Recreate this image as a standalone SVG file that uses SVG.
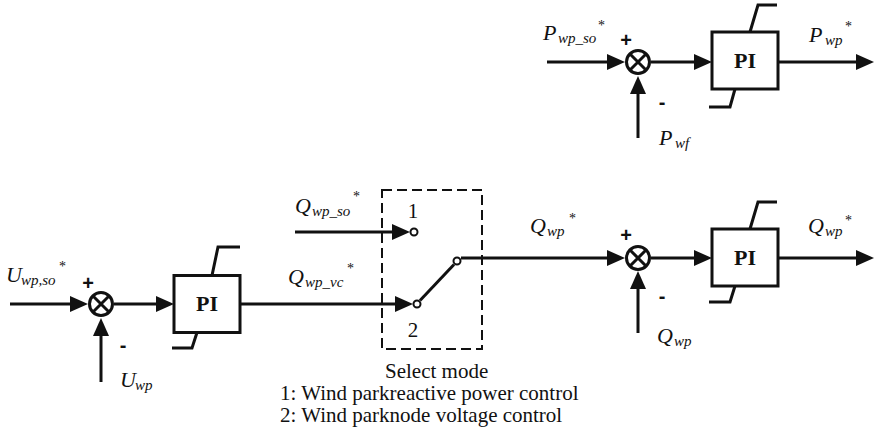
<svg xmlns="http://www.w3.org/2000/svg" width="875" height="434" viewBox="0 0 875 434">
<style>
.ln{fill:none;stroke:#111;stroke-width:3}
.box{fill:#fff;stroke:#111;stroke-width:3}
.sum{fill:#fff;stroke:#111;stroke-width:3}
.sw{fill:#fff;stroke:#111;stroke-width:2}
.dash{fill:none;stroke:#111;stroke-width:2;stroke-dasharray:10 5}
.lab{font-family:"Liberation Serif","Times New Roman",Times,serif;font-style:italic;font-size:22px;fill:#111}
.sub{font-size:15px}
.star{font-style:normal;font-size:14px}
.pi{font-family:"Liberation Serif","Times New Roman",Times,serif;font-weight:bold;font-size:22px;fill:#111;text-anchor:middle}
.sign{font-family:"Liberation Sans",Arial,sans-serif;font-weight:bold;font-size:20px;fill:#111;text-anchor:middle}
.txt{font-family:"Liberation Serif","Times New Roman",Times,serif;font-size:21px;fill:#111}
</style>
<defs>
<marker id="ah" viewBox="0 0 18 16" refX="9" refY="8" markerWidth="18" markerHeight="16" markerUnits="userSpaceOnUse" orient="auto">
<path d="M0,0 L18,8 L0,16 z" fill="#111"/>
</marker>
</defs>

<g id="connectors">
<path class="ln" d="M547,62 H616" marker-end="url(#ah)"/>
<path class="ln" d="M651,62 H703" marker-end="url(#ah)"/>
<path class="ln" d="M778,62 H865" marker-end="url(#ah)"/>
<path class="ln" d="M638,138 V85" marker-end="url(#ah)"/>
<path class="ln" d="M10,304 H79" marker-end="url(#ah)"/>
<path class="ln" d="M114,304 H165" marker-end="url(#ah)"/>
<path class="ln" d="M240,304 H404" marker-end="url(#ah)"/>
<path class="ln" d="M101,382 V327" marker-end="url(#ah)"/>
<path class="ln" d="M295,232 H401" marker-end="url(#ah)"/>
<path class="ln" d="M420,300.5 L454,264.5"/>
<path class="ln" d="M461,258 H616" marker-end="url(#ah)"/>
<path class="ln" d="M651,258 H703" marker-end="url(#ah)"/>
<path class="ln" d="M778,258 H865" marker-end="url(#ah)"/>
<path class="ln" d="M638,333 V280" marker-end="url(#ah)"/>
</g>

<g id="sum-p">
<circle class="sum" cx="638" cy="62" r="11.5"/>
<path class="ln" d="M630,54 L646,70 M646,54 L630,70"/>
<text class="sign" x="626" y="47">+</text>
<text class="sign" x="662" y="109">-</text>
</g>
<g id="pi-p">
<rect class="box" x="712" y="32" width="66" height="57"/>
<path class="ln" d="M750,32 L758,5 H777 M735,89 L730,107 H709"/>
<text class="pi" x="745" y="68">PI</text>
</g>

<g id="sum-u">
<circle class="sum" cx="101" cy="304" r="11.5"/>
<path class="ln" d="M93,296 L109,312 M109,296 L93,312"/>
<text class="sign" x="88" y="290">+</text>
<text class="sign" x="123" y="352">-</text>
</g>
<g id="pi-u">
<rect class="box" x="174" y="275.5" width="66" height="57"/>
<path class="ln" d="M212,275.5 L218,247 H240 M197,332.5 L192,348 H172"/>
<text class="pi" x="207" y="311">PI</text>
</g>

<g id="switch">
<rect class="dash" x="382" y="190" width="100" height="159"/>
<circle class="sw" cx="414" cy="232" r="3.5"/>
<circle class="sw" cx="417" cy="304" r="3.5"/>
<circle class="sw" cx="457" cy="261" r="3.5"/>
<text class="txt" x="413" y="218" text-anchor="middle" font-size="22">1</text>
<text class="txt" x="413" y="337" text-anchor="middle" font-size="22">2</text>
</g>

<g id="sum-q">
<circle class="sum" cx="638" cy="258" r="11.5"/>
<path class="ln" d="M630,250 L646,266 M646,250 L630,266"/>
<text class="sign" x="626" y="242">+</text>
<text class="sign" x="662" y="303">-</text>
</g>
<g id="pi-q">
<rect class="box" x="712" y="229" width="66" height="57"/>
<path class="ln" d="M750,229 L758,202 H777 M735,286 L730,302 H709"/>
<text class="pi" x="745" y="265">PI</text>
</g>

<g id="labels">
<text class="lab"><tspan x="543" y="40">P</tspan><tspan class="sub" x="558" y="43">wp_so</tspan><tspan class="star" x="598" y="30">*</tspan></text>
<text class="lab"><tspan x="659" y="145">P</tspan><tspan class="sub" x="675" y="148">wf</tspan></text>
<text class="lab"><tspan x="809" y="42">P</tspan><tspan class="sub" x="825" y="45">wp</tspan><tspan class="star" x="845" y="31">*</tspan></text>
<text class="lab"><tspan x="6" y="282">U</tspan><tspan class="sub" x="21" y="285">wp,so</tspan><tspan class="star" x="59" y="271">*</tspan></text>
<text class="lab"><tspan x="120" y="387">U</tspan><tspan class="sub" x="135" y="390">wp</tspan></text>
<text class="lab"><tspan x="295" y="213">Q</tspan><tspan class="sub" x="312" y="216">wp_so</tspan><tspan class="star" x="353" y="201">*</tspan></text>
<text class="lab"><tspan x="288" y="284">Q</tspan><tspan class="sub" x="305" y="287">wp_vc</tspan><tspan class="star" x="347" y="273">*</tspan></text>
<text class="lab"><tspan x="530" y="233">Q</tspan><tspan class="sub" x="547" y="236">wp</tspan><tspan class="star" x="569" y="223">*</tspan></text>
<text class="lab"><tspan x="657" y="343">Q</tspan><tspan class="sub" x="674" y="346">wp</tspan></text>
<text class="lab"><tspan x="808" y="233">Q</tspan><tspan class="sub" x="825" y="236">wp</tspan><tspan class="star" x="845" y="225">*</tspan></text>
</g>

<g id="caption">
<text class="txt" x="385" y="378">Select mode</text>
<text class="txt" x="280" y="400">1: Wind parkreactive power control</text>
<text class="txt" x="280" y="422">2: Wind parknode voltage control</text>
</g>
</svg>
